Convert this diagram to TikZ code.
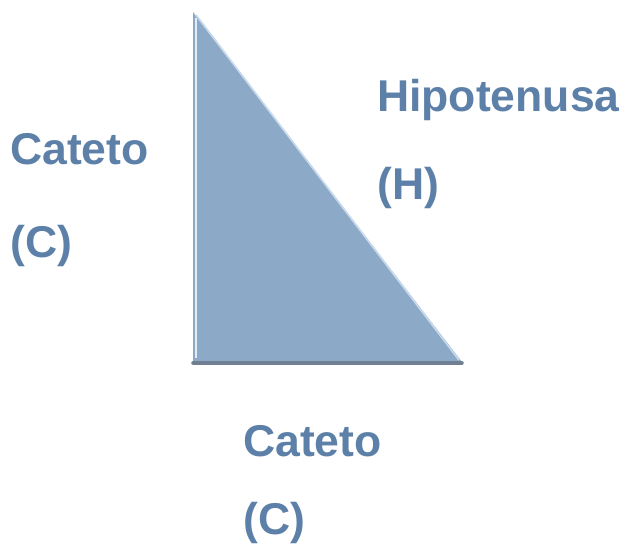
\documentclass[tikz,border=0pt]{standalone}
\usepackage{fontspec}
\setmainfont{Liberation Sans}
\usetikzlibrary{calc, positioning}
\definecolor{trifill}{RGB}{140,169,200}
\definecolor{labelblue}{RGB}{92,128,168}
\definecolor{edgelight}{RGB}{225,238,248}
\definecolor{edgedark}{RGB}{112,128,146}

\begin{document}
\begin{tikzpicture}[x=0.03cm, y=-0.03cm,
    lbl/.style={anchor=base west, inner sep=0pt, text=labelblue,
        font=\fontsize{38}{40}\selectfont\bfseries}]
\useasboundingbox (0,0) rectangle (630,545);

% Vertices of the triangle
\coordinate (top) at (193,12);
\coordinate (corner) at (193,362);
\coordinate (right) at (462,362);

% Triangle body and edges
\fill[trifill] (top) -- (corner) -- (right) -- cycle;
\draw[edgelight, line width=1.2pt] ($(top)+(3,6)$) -- ($(corner)+(3,-4)$);
\draw[edgelight!70!trifill, line width=1.5pt] ($(top)+(3,3)$) -- ($(right)+(-3,-2)$);
\draw[edgedark, line width=3pt, line cap=round] ($(corner)+(0,1)$) -- ($(right)+(0,1)$);

% Labels
\node[lbl] (catleft) at (10,165) {Cateto};
\node[lbl] (cleft) at (10,258) {(C)};
\node[lbl] (hip) at (377,112) {Hipotenusa};
\node[lbl] (hleft) at (377,200) {(H)};
\node[lbl] (catbot) at (243,457) {Cateto};
\node[lbl] (cbot) at (243,535) {(C)};
\end{tikzpicture}
\end{document}
